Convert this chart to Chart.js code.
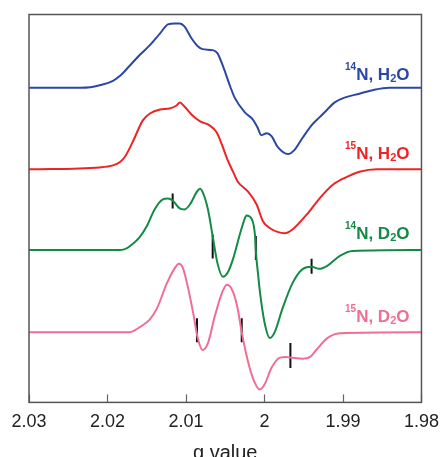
<!DOCTYPE html>
<html>
<head>
<meta charset="utf-8">
<script src="https://cdn.jsdelivr.net/npm/chart.js@4/dist/chart.umd.min.js"></script>
<style>
  html, body { margin: 0; padding: 0; overflow: hidden; background: #fff; }
  #wrap { width: 444px; height: 481px; }
</style>
</head>
<body>
<div id="wrap"><canvas id="myChart" width="444" height="481"></canvas></div>
<script>
// g values and offset intensities
let gBlue = [2.0300, 2.0235, 2.0222, 2.0210, 2.0193, 2.0184, 2.0172, 2.0159, 2.0146, 2.0133, 2.0123, 2.0114, 2.0108, 2.0102, 2.0093, 2.0085, 2.0079, 2.0066, 2.0060, 2.0053, 2.0044, 2.0038, 2.0025, 2.0015, 2.0009, 2.0004, 1.9997, 1.9991, 1.9983, 1.9970, 1.9962, 1.9951, 1.9939, 1.9930, 1.9920, 1.9911, 1.9898, 1.9879, 1.9860, 1.9841, 1.9800];
let yBlue = [318, 318, 318.5, 320.5, 325, 330, 340, 351, 361, 373, 382, 383, 383, 380, 368, 360, 357, 356, 353, 340, 320, 308, 293, 286, 278, 270, 272, 269, 258, 251, 255, 268, 281, 288, 296, 303, 308, 312, 316, 318, 318];

let gRed = [2.0300, 2.0210, 2.0193, 2.0184, 2.0178, 2.0168, 2.0155, 2.0146, 2.0133, 2.0121, 2.0112, 2.0108, 2.0102, 2.0093, 2.0082, 2.0070, 2.0061, 2.0054, 2.0047, 2.0040, 2.0034, 2.0021, 2.0010, 2.0002, 1.9993, 1.9974, 1.9964, 1.9946, 1.9930, 1.9913, 1.9895, 1.9879, 1.9857, 1.9800];
let yRed = [235.5, 237.5, 239.5, 243, 248, 263, 285, 292, 296, 297, 300, 303, 299, 291, 284, 280, 273, 260, 245, 233, 223, 213, 200, 183, 176, 171, 175, 190, 206, 220, 228, 233, 235.5, 235.5];

let gGreen = [2.0300, 2.0184, 2.0175, 2.0168, 2.0159, 2.0150, 2.0140, 2.0130, 2.0123, 2.0117, 2.0108, 2.0102, 2.0095, 2.0086, 2.0082, 2.0079, 2.0072, 2.0066, 2.0060, 2.0053, 2.0047, 2.0040, 2.0031, 2.0025, 2.0023, 2.0016, 2.0012, 2.0011, 2.0008, 2.0006, 2.0000, 1.9993, 1.9987, 1.9977, 1.9964, 1.9951, 1.9940, 1.9930, 1.9920, 1.9904, 1.9888, 1.9800];
let yGreen = [154, 154, 156, 160, 167, 178, 195, 205, 206, 204, 196, 195, 200, 213, 216, 213, 195, 168, 141, 127, 131, 145, 171, 186, 189, 185, 168, 153, 128, 113, 81, 65, 71, 95, 121, 135, 137, 135, 138, 148, 153, 154];

let gPink = [2.0300, 2.0184, 2.0172, 2.0165, 2.0159, 2.0146, 2.0137, 2.0124, 2.0114, 2.0109, 2.0104, 2.0098, 2.0091, 2.0085, 2.0079, 2.0072, 2.0063, 2.0054, 2.0048, 2.0042, 2.0035, 2.0029, 2.0023, 2.0015, 2.0006, 2.0000, 1.9991, 1.9981, 1.9972, 1.9964, 1.9951, 1.9942, 1.9934, 1.9920, 1.9904, 1.9800];
let yPink = [71, 71, 71, 73, 76, 84, 95, 121, 136, 140, 136, 118, 91, 65, 53, 60, 88, 111, 119, 115, 98, 71, 48, 25, 13, 18, 35, 45, 46, 45, 44, 46, 53, 65, 70, 71];

// black markers on the D2O traces
let gMarkGreen = [2.0117, 2.0066, 2.0011, 1.9940];
let yMarkGreen = [203.5, 157.5, 156, 137.5];
let gMarkPink = [2.0086, 2.0029, 1.9967];
let yMarkPink = [73, 73, 47.5];

let xTicks = [2.03, 2.02, 2.01, 2.00, 1.99, 1.98];

let colors = ['#2b47a6', '#ee2424', '#138a45', '#f06d93'];

function pts(xs, ys) {
    return xs.map(function (x, i) { return { x: x, y: ys[i] }; });
}

function line(xs, ys, color) {
    return {
        data: pts(xs, ys),
        showLine: true,
        borderColor: color,
        borderWidth: 2,
        pointRadius: 0,
        cubicInterpolationMode: 'monotone',
        fill: false
    };
}

function marks(xs, ys, sizes) {
    return {
        data: pts(xs, ys),
        showLine: false,
        pointStyle: 'line',
        rotation: 90,
        pointRadius: sizes,
        pointBorderColor: '#111',
        pointBorderWidth: 2,
        pointBackgroundColor: '#111'
    };
}

let font = '"Liberation Sans", Arial, sans-serif';

// text labels with super/subscripts, inner ticks and the frame
let decor = {
    id: 'decor',
    afterDatasetsDraw: function (chart) {
        let ctx = chart.ctx;
        let a = chart.chartArea;
        let xs = chart.scales.x;
        let ys = chart.scales.y;

        ctx.save();
        ctx.strokeStyle = '#666';
        ctx.lineWidth = 1.2;
        xTicks.forEach(function (t) {
            let px = Math.round(xs.getPixelForValue(t)) + 0.5;
            ctx.beginPath();
            ctx.moveTo(px, a.bottom);
            ctx.lineTo(px, a.bottom - 8);
            ctx.stroke();
        });
        ctx.strokeStyle = '#555';
        ctx.lineWidth = 1.5;
        ctx.strokeRect(a.left, a.top, a.right - a.left, a.bottom - a.top);

        // [mass, solvent letter, baseline value, color]
        let labels = [['14', 'H', 326, colors[0]], ['15', 'H', 246, colors[1]],
                      ['14', 'D', 165, colors[2]], ['15', 'D', 81, colors[3]]];
        labels.forEach(function (l) {
            let base = ys.getPixelForValue(l[2]);
            let right = a.right - 12;
            let big = 'bold 17px ' + font;
            let sup = 'bold 10px ' + font;
            let sub = 'bold 11px ' + font;
            ctx.font = sup; let w1 = ctx.measureText(l[0]).width;
            ctx.font = big; let w2 = ctx.measureText('N, ' + l[1]).width;
            ctx.font = sub; let w3 = ctx.measureText('2').width;
            ctx.font = big; let w4 = ctx.measureText('O').width;
            let x = right - (w1 + w2 + w3 + w4);
            ctx.fillStyle = l[3];
            ctx.textBaseline = 'alphabetic';
            ctx.textAlign = 'left';
            ctx.font = sup; ctx.fillText(l[0], x, base - 10); x += w1;
            ctx.font = big; ctx.fillText('N, ' + l[1], x, base); x += w2;
            ctx.font = sub; ctx.fillText('2', x, base + 2); x += w3;
            ctx.font = big; ctx.fillText('O', x, base);
        });
        ctx.restore();
    }
};

let myChart = document.getElementById('myChart').getContext('2d');

let chart = new Chart(myChart, {
    type: 'scatter',
    data: {
        datasets: [
            line(gBlue, yBlue, colors[0]),
            line(gRed, yRed, colors[1]),
            line(gGreen, yGreen, colors[2]),
            line(gPink, yPink, colors[3]),
            marks(gMarkGreen, yMarkGreen, [7.5, 12, 12, 7.5]),
            marks(gMarkPink, yMarkPink, [12, 12, 12.5])
        ]
    },
    options: {
        responsive: false,
        animation: false,
        layout: { padding: { left: 29, right: 20, top: 11, bottom: 0 } },
        plugins: {
            legend: { display: false },
            tooltip: { enabled: false }
        },
        scales: {
            x: {
                type: 'linear',
                reverse: true,
                min: 1.98,
                max: 2.03,
                border: { display: false },
                grid: { display: false, drawTicks: true, tickLength: 4 },
                afterBuildTicks: function (s) {
                    s.ticks = xTicks.map(function (v) { return { value: v }; });
                },
                ticks: {
                    padding: 5,
                    color: '#222',
                    font: { family: font, size: 18 },
                    maxRotation: 0,
                    callback: function (v) { return String(Math.round(v * 100) / 100); }
                },
                title: {
                    display: true,
                    text: 'g value',
                    color: '#222',
                    font: { family: font, size: 20 },
                    padding: { top: 3, bottom: 16 }
                }
            },
            y: {
                display: false,
                min: 0,
                max: 392
            }
        }
    },
    plugins: [decor]
});
</script>
</body>
</html>
